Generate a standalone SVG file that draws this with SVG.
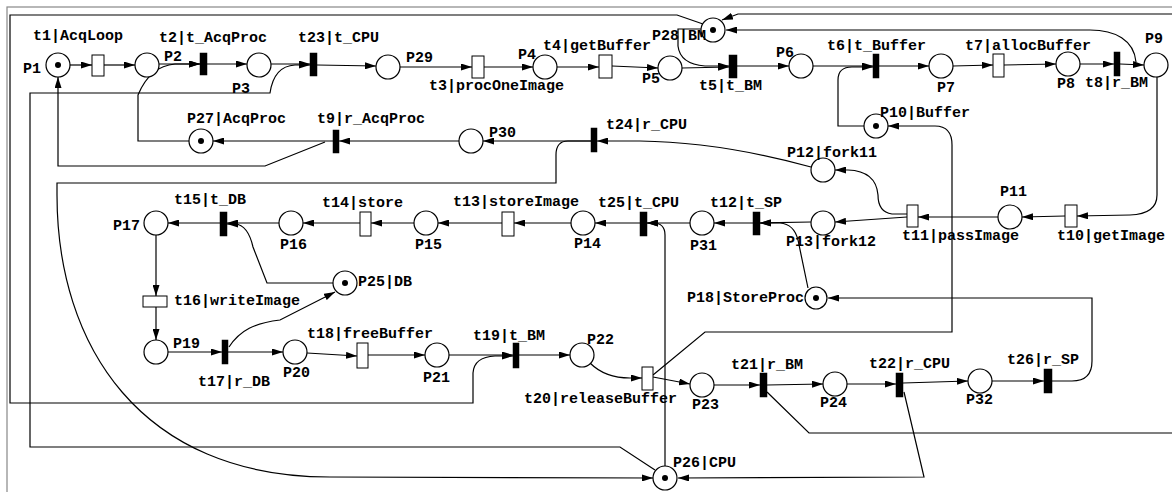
<svg xmlns="http://www.w3.org/2000/svg" width="1172" height="492" viewBox="0 0 1172 492">
<defs>
<marker id="a" markerWidth="11" markerHeight="7" refX="11" refY="3.5" orient="auto" markerUnits="userSpaceOnUse"><path d="M0,0 L11,3.5 L0,7 z" fill="#000"/></marker>
<style>
.p{fill:#fff;stroke:#000;stroke-width:1.2}
.k{fill:#000}
.w{fill:#fff;stroke:#000;stroke-width:1}
.b{fill:#000;stroke:#000;stroke-width:0.5}
text{font-family:"Liberation Mono","Courier New",monospace;font-size:15px;font-weight:bold;fill:#000}
#conn path{fill:none;stroke:#000;stroke-width:1.2;marker-end:url(#a)}
</style>
</defs>
<rect x="0" y="0" width="1172" height="492" fill="#fff"/>
<rect x="7" y="7" width="1200" height="520" fill="none" stroke="#888" stroke-width="1.2"/>
<g id="conn">
<path d="M70,65 L92,65"/>
<path d="M104,65 L135,65"/>
<path d="M159,64 L200,64"/>
<path d="M189,141 L138,141 L138,95 Q150,66 175,64 L200,64"/>
<path d="M207,64 L247,64"/>
<path d="M271,64 L310,64"/>
<path d="M655,470 L620,447 L30,447 L30,93 L270,93 Q274,66 295,65 L310,65"/>
<path d="M317,65 L376,66"/>
<path d="M400,67 L472,67"/>
<path d="M484,67 L533,67"/>
<path d="M557,67 L599,67"/>
<path d="M612,66 L658,68"/>
<path d="M682,68 L729,67"/>
<path d="M701,29 L678,29 L678,46 Q680,64 705,66 L729,66"/>
<path d="M737,66 L789,66"/>
<path d="M813,66 L873,66"/>
<path d="M864,126 L838,126 L838,80 Q838,67 852,67 L873,67"/>
<path d="M879,66 L929,66"/>
<path d="M953,66 L993,65"/>
<path d="M1004,65 L1056,64"/>
<path d="M1080,64 L1114,64"/>
<path d="M1120,64 L1144,65"/>
<path d="M1136,62 C1134,40 1115,30 1090,30 L726,30"/>
<path d="M1157,77 L1157,195 Q1157,214 1130,215 L1077,216"/>
<path d="M1065,216 L1022,217"/>
<path d="M998,217 L918,217"/>
<path d="M907,217 L835,222"/>
<path d="M907,214 L892,214 Q878,212 878,195 Q876,171 848,170 L835,170"/>
<path d="M811,167 Q720,142 640,141 L597,141"/>
<path d="M591,141 L483,141"/>
<path d="M459,141 L339,141"/>
<path d="M333,141 L213,141"/>
<path d="M325,142 L265,166 L58,166 L58,77"/>
<path d="M591,141 L568,141 Q556,141 556,155 L556,183 L57,183 L57,195 C57,345 140,477 330,477 L653,478"/>
<path d="M653,375 L705,332 L952,332 L952,145 Q952,126 935,126 L888,126"/>
<path d="M703,24 L677,15 L10,15 L10,403 L473,403 L473,373 Q474,357 495,356 L513,356"/>
<path d="M767,392 L809,433 L1185,433 L1185,14 L738,14 L722,20"/>
<path d="M590,363 Q605,378 630,378 L642,378"/>
<path d="M653,377 L690,384"/>
<path d="M714,385 L760,385"/>
<path d="M767,385 L823,384"/>
<path d="M847,384 L896,384"/>
<path d="M903,383 L968,381"/>
<path d="M992,381 L1044,381"/>
<path d="M1052,381 L1072,381 Q1092,381 1092,361 L1092,298 L828,298"/>
<path d="M904,392 L924,477 L678,478"/>
<path d="M665,466 L665,235 Q665,223 653,223 L647,223"/>
<path d="M690,223 L647,223"/>
<path d="M753,223 L714,223"/>
<path d="M811,222 L760,223"/>
<path d="M808,288 L798,240 Q794,224 780,223 L760,223"/>
<path d="M640,223 L595,223"/>
<path d="M571,223 L514,223"/>
<path d="M502,223 L438,223"/>
<path d="M414,223 L371,223"/>
<path d="M360,223 L303,223"/>
<path d="M279,223 L227,223"/>
<path d="M220,223 L168,223"/>
<path d="M333,283 L267,283 L253,247 Q248,225 235,224 L227,224"/>
<path d="M156,235 L156,296"/>
<path d="M156,307 L156,340"/>
<path d="M168,352 L222,352"/>
<path d="M228,352 L283,352"/>
<path d="M229,347 C240,330 255,323 280,320 L335,292"/>
<path d="M307,353 L357,356"/>
<path d="M368,355 L425,355"/>
<path d="M449,355 L513,355"/>
<path d="M519,355 L570,355"/>
</g>
<g id="P1"><circle class="p" cx="58" cy="65" r="12"/><circle class="k" cx="58" cy="65" r="3"/><text x="23" y="73">P1</text></g>
<g id="P2"><circle class="p" cx="147" cy="65" r="12"/><text x="164" y="61">P2</text></g>
<g id="P3"><circle class="p" cx="259" cy="65" r="12"/><text x="232" y="93">P3</text></g>
<g id="P29"><circle class="p" cx="388" cy="67" r="12"/><text x="406" y="62">P29</text></g>
<g id="P4"><circle class="p" cx="545" cy="67" r="12"/><text x="518" y="59">P4</text></g>
<g id="P5"><circle class="p" cx="670" cy="68" r="12"/><text x="642" y="83">P5</text></g>
<g id="P28"><circle class="p" cx="713" cy="30" r="12"/><circle class="k" cx="713" cy="30" r="3"/><text x="652" y="40">P28|BM</text></g>
<g id="P6"><circle class="p" cx="801" cy="66" r="12"/><text x="776" y="57">P6</text></g>
<g id="P7"><circle class="p" cx="941" cy="66" r="12"/><text x="937" y="92">P7</text></g>
<g id="P8"><circle class="p" cx="1068" cy="64" r="12"/><text x="1057" y="88">P8</text></g>
<g id="P9"><circle class="p" cx="1156" cy="65" r="12"/><text x="1145" y="43">P9</text></g>
<g id="P27"><circle class="p" cx="201" cy="141" r="12"/><circle class="k" cx="201" cy="141" r="3"/><text x="187" y="123">P27|AcqProc</text></g>
<g id="P30"><circle class="p" cx="471" cy="141" r="12"/><text x="489" y="137">P30</text></g>
<g id="P10"><circle class="p" cx="876" cy="126" r="12"/><circle class="k" cx="876" cy="126" r="3"/><text x="880" y="117">P10|Buffer</text></g>
<g id="P12"><circle class="p" cx="823" cy="170" r="12"/><text x="787" y="157">P12|fork11</text></g>
<g id="P13"><circle class="p" cx="823" cy="223" r="12"/><text x="786" y="246">P13|fork12</text></g>
<g id="P11"><circle class="p" cx="1010" cy="217" r="12"/><text x="1000" y="196">P11</text></g>
<g id="P31"><circle class="p" cx="702" cy="223" r="12"/><text x="690" y="250">P31</text></g>
<g id="P14"><circle class="p" cx="583" cy="223" r="12"/><text x="574" y="248">P14</text></g>
<g id="P15"><circle class="p" cx="426" cy="223" r="12"/><text x="415" y="249">P15</text></g>
<g id="P16"><circle class="p" cx="291" cy="223" r="12"/><text x="280" y="249">P16</text></g>
<g id="P17"><circle class="p" cx="156" cy="223" r="12"/><text x="113" y="230">P17</text></g>
<g id="P25"><circle class="p" cx="345" cy="283" r="12"/><circle class="k" cx="345" cy="283" r="3"/><text x="358" y="286">P25|DB</text></g>
<g id="P18"><circle class="p" cx="816" cy="298" r="11"/><circle class="k" cx="816" cy="298" r="3"/><text x="687" y="302">P18|StoreProc</text></g>
<g id="P19"><circle class="p" cx="156" cy="352" r="12"/><text x="173" y="348">P19</text></g>
<g id="P20"><circle class="p" cx="295" cy="352" r="12"/><text x="283" y="377">P20</text></g>
<g id="P21"><circle class="p" cx="437" cy="355" r="12"/><text x="423" y="382">P21</text></g>
<g id="P22"><circle class="p" cx="582" cy="355" r="12"/><text x="587" y="344">P22</text></g>
<g id="P23"><circle class="p" cx="702" cy="385" r="12"/><text x="692" y="409">P23</text></g>
<g id="P24"><circle class="p" cx="835" cy="384" r="12"/><text x="820" y="407">P24</text></g>
<g id="P32"><circle class="p" cx="980" cy="381" r="12"/><text x="966" y="404">P32</text></g>
<g id="P26"><circle class="p" cx="665" cy="478" r="12"/><circle class="k" cx="665" cy="478" r="3"/><text x="673" y="467">P26|CPU</text></g>
<g id="t1"><rect class="w" x="92" y="55" width="12" height="21"/><text x="33" y="40">t1|AcqLoop</text></g>
<g id="t2"><rect class="b" x="200" y="53" width="7" height="22"/><text x="159" y="42">t2|t_AcqProc</text></g>
<g id="t23"><rect class="b" x="310" y="53" width="7" height="23"/><text x="298" y="42">t23|t_CPU</text></g>
<g id="t3"><rect class="w" x="472" y="56" width="12" height="22"/><text x="429" y="90">t3|procOneImage</text></g>
<g id="t4"><rect class="w" x="599" y="55" width="13" height="23"/><text x="543" y="50">t4|getBuffer</text></g>
<g id="t5"><rect class="b" x="729" y="55" width="8" height="23"/><text x="699" y="90">t5|t_BM</text></g>
<g id="t6"><rect class="b" x="873" y="54" width="6" height="24"/><text x="827" y="50">t6|t_Buffer</text></g>
<g id="t7"><rect class="w" x="993" y="54" width="11" height="23"/><text x="965" y="50">t7|allocBuffer</text></g>
<g id="t8"><rect class="b" x="1114" y="52" width="6" height="24"/><text x="1085" y="87">t8|r_BM</text></g>
<g id="t9"><rect class="b" x="333" y="130" width="6" height="23"/><text x="317" y="123">t9|r_AcqProc</text></g>
<g id="t24"><rect class="b" x="591" y="128" width="6" height="24"/><text x="606" y="129">t24|r_CPU</text></g>
<g id="t10"><rect class="w" x="1065" y="205" width="12" height="22"/><text x="1057" y="240">t10|getImage</text></g>
<g id="t11"><rect class="w" x="907" y="205" width="11" height="22"/><text x="902" y="240">t11|passImage</text></g>
<g id="t12"><rect class="b" x="753" y="212" width="7" height="23"/><text x="710" y="207">t12|t_SP</text></g>
<g id="t25"><rect class="b" x="640" y="212" width="7" height="24"/><text x="598" y="207">t25|t_CPU</text></g>
<g id="t13"><rect class="w" x="502" y="212" width="12" height="24"/><text x="453" y="206">t13|storeImage</text></g>
<g id="t14"><rect class="w" x="360" y="212" width="11" height="24"/><text x="322" y="207">t14|store</text></g>
<g id="t15"><rect class="b" x="220" y="212" width="7" height="24"/><text x="174" y="204">t15|t_DB</text></g>
<g id="t16"><rect class="w" x="143" y="296" width="24" height="11"/><text x="174" y="305">t16|writeImage</text></g>
<g id="t17"><rect class="b" x="222" y="340" width="6" height="24"/><text x="198" y="386">t17|r_DB</text></g>
<g id="t18"><rect class="w" x="357" y="343" width="11" height="25"/><text x="307" y="338">t18|freeBuffer</text></g>
<g id="t19"><rect class="b" x="513" y="343" width="6" height="25"/><text x="473" y="340">t19|t_BM</text></g>
<g id="t20"><rect class="w" x="642" y="367" width="11" height="23"/><text x="524" y="403">t20|releaseBuffer</text></g>
<g id="t21"><rect class="b" x="760" y="373" width="7" height="24"/><text x="731" y="369">t21|r_BM</text></g>
<g id="t22"><rect class="b" x="896" y="373" width="7" height="24"/><text x="869" y="368">t22|r_CPU</text></g>
<g id="t26"><rect class="b" x="1044" y="369" width="8" height="24"/><text x="1007" y="364">t26|r_SP</text></g>
</svg>
